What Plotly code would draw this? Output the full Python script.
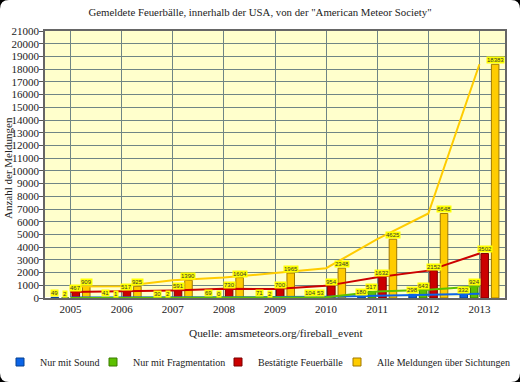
import plotly.graph_objects as go

years = ["2005", "2006", "2007", "2008", "2009", "2010", "2011", "2012", "2013"]
sound = [49, 41, 30, 69, 71, 104, 180, 298, 332]
fragmentation = [2, 1, 2, 0, 2, 53, 517, 643, 924]
confirmed = [467, 517, 591, 730, 700, 954, 1632, 2152, 3502]
all_reports = [909, 925, 1390, 1604, 1965, 2348, 4625, 6648, 18383]

series_names = ["Nur mit Sound", "Nur mit Fragmentation", "Bestätigte Feuerbälle",
                "Alle Meldungen über Sichtungen"]
series_values = [sound, fragmentation, confirmed, all_reports]
colors = ["#0a64e8", "#5cc000", "#cc0000", "#ffcc00"]
edge_colors = ["#06408f", "#3a7a00", "#7a0000", "#a07800"]

W, H = 520, 382
ML, MR, MT, MB = 45, 15, 31, 84
PW, PH = W - ML - MR, H - MT - MB

def px_x(px):
    return (px - ML) / PW

def px_y(py):
    return (H - MB - py) / PH

SERIF = "Liberation Serif, Times New Roman, serif"
GRID = "#6f8585"

fig = go.Figure()

for name, vals, c, ec in zip(series_names, series_values, colors, edge_colors):
    fig.add_trace(go.Bar(x=years, y=vals, name=name, marker=dict(color=c, line=dict(color=ec, width=1)),
                         showlegend=False, hoverinfo="x+y"))

for name, vals, c in zip(series_names, series_values, colors):
    fig.add_trace(go.Scatter(x=years, y=vals, mode="lines", line=dict(color=c, width=2),
                             showlegend=False, hoverinfo="skip"))

# legend entries
legend_ids = ["legend", "legend2", "legend3", "legend4"]
legend_sym_px = [28, 121, 246, 365]
for name, c, ec, lid in zip(series_names, colors, edge_colors, legend_ids):
    fig.add_trace(go.Scatter(x=[years[0]], y=[None], mode="markers", name=name,
                             marker=dict(symbol="square", size=8, color=c, line=dict(color=ec, width=1)),
                             legend=lid, showlegend=True, hoverinfo="skip"))

bargap = 0.18
bargroupgap = 0.28
slot = PW / len(years) * (1 - bargap) / 4
offsets = [(-1.5 + i) * slot for i in range(4)]

annotations = []
for vals, off in zip(series_values, offsets):
    for i, v in enumerate(vals):
        annotations.append(dict(x=i, y=v, xref="x", yref="y", text=str(v), showarrow=False,
                                xshift=off, yanchor="bottom", yshift=0,
                                font=dict(family="Liberation Sans, Arial, sans-serif", size=6, color="#333"),
                                bgcolor="#ffff00", borderpad=0))

annotations.append(dict(x=px_x(276), y=px_y(333), xref="paper", yref="paper",
                        text="Quelle: amsmeteors.org/fireball_event", showarrow=False,
                        xanchor="center", yanchor="middle",
                        font=dict(family=SERIF, size=11.3, color="#222")))
annotations.append(dict(x=px_x(8), y=px_y(168), xref="paper", yref="paper",
                        text="Anzahl der Meldungen", showarrow=False, textangle=-90,
                        xanchor="center", yanchor="middle",
                        font=dict(family=SERIF, size=11, color="#222")))

# rounded white panel
r = 9
x0, x1, y0, y1 = px_x(0), px_x(W), px_y(H), px_y(0)
rx, ry = r / PW, r / PH
path = (f"M {x0+rx},{y1} L {x1-rx},{y1} Q {x1},{y1} {x1},{y1-ry} "
        f"L {x1},{y0+ry} Q {x1},{y0} {x1-rx},{y0} L {x0+rx},{y0} Q {x0},{y0} {x0},{y0+ry} "
        f"L {x0},{y1-ry} Q {x0},{y1} {x0+rx},{y1} Z")
shapes = [
    dict(type="path", path=path, xref="paper", yref="paper", fillcolor="white",
         line=dict(width=0), layer="below"),
    dict(type="rect", x0=0, x1=1, y0=0, y1=1, xref="paper", yref="paper",
         fillcolor="#ffffcc", line=dict(width=0), layer="below"),
]

layout_legends = {}
for lid, sx in zip(legend_ids, legend_sym_px):
    layout_legends[lid] = dict(x=(sx - 8 - 20) / W, y=1 - 362 / H, xref="container", yref="container",
                               xanchor="left", yanchor="middle",
                               orientation="h", bgcolor="rgba(0,0,0,0)",
                               font=dict(family=SERIF, size=10, color="#222"))

fig.update_layout(
    width=W, height=H,
    margin=dict(l=ML, r=MR, t=MT, b=MB, autoexpand=False),
    paper_bgcolor="black",
    plot_bgcolor="rgba(0,0,0,0)",
    barmode="group", bargap=bargap, bargroupgap=bargroupgap,
    title=dict(text='Gemeldete Feuerbälle, innerhalb der USA, von der "American Meteor Society"',
               x=0.5, xanchor="center", y=1 - 12 / H, yanchor="middle", xref="container",
               yref="container", font=dict(family=SERIF, size=10.8, color="#222")),
    xaxis=dict(type="category", range=[-0.5, 8.5], showgrid=True, gridcolor=GRID, gridwidth=1,
               showline=True, linecolor="#666", linewidth=1.5, mirror=True, automargin=False,
               tickfont=dict(family=SERIF, size=11, color="#222"), ticks=""),
    yaxis=dict(range=[0, 21000], dtick=1000, tickformat="d", showgrid=True, automargin=False,
               gridcolor=GRID, gridwidth=1, showline=True, linecolor="#666", linewidth=1.5, mirror=True,
               ticks="outside", ticklen=4, tickcolor="#555", ticklabelstandoff=-2,
               tickfont=dict(family=SERIF, size=11, color="#222")),
    annotations=annotations,
    shapes=shapes,
    **layout_legends,
)

fig.write_html("out.html", config={"displayModeBar": False},
               post_script="document.body.style.margin='0px';")
